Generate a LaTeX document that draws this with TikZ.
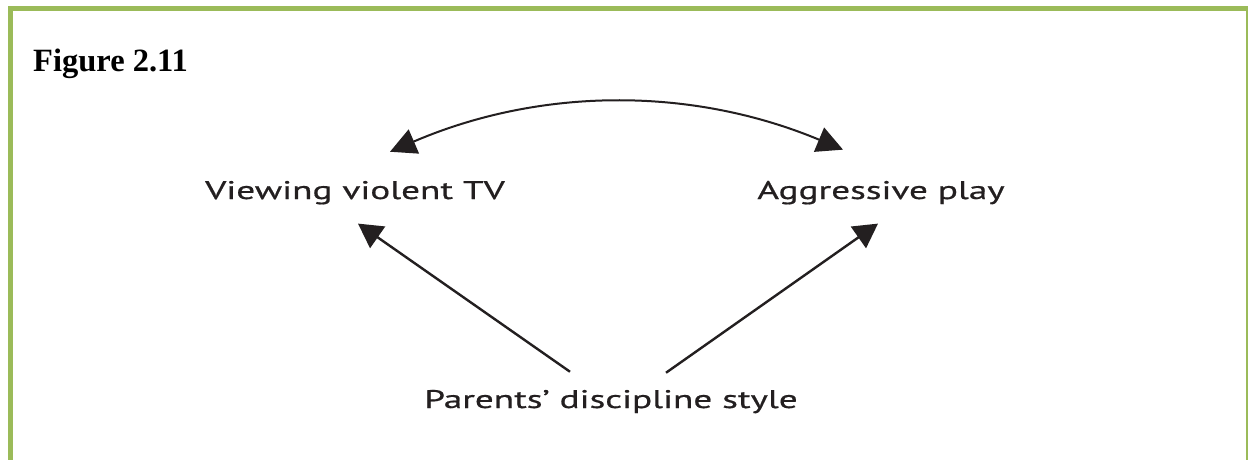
\documentclass[tikz,border=0pt]{standalone}
\usepackage{fontspec}
\setmainfont{Liberation Serif}
\newfontfamily\diagfont[FakeStretch=1.46,FakeBold=0.6]{PT Sans}
\usetikzlibrary{arrows.meta,calc}
\definecolor{framegreen}{HTML}{9BBB59}
\definecolor{ink}{HTML}{231F20}
\tikzset{
  frameline/.style={draw=framegreen, line width=5pt},
  label/.style={font=\diagfont\fontsize{25.5}{28}\selectfont, text=ink, inner sep=0pt, anchor=base},
  title/.style={font=\bfseries\fontsize{32.5}{35}\selectfont, inner sep=0pt, anchor=base west},
  link/.style={draw=ink, line width=2.4pt, -{Triangle[length=24pt,width=26pt]}},
  curvelink/.style={draw=ink, line width=2pt, {Triangle[length=26pt,width=26pt]}-{Triangle[length=26pt,width=26pt]}}
}
\begin{document}
\begin{tikzpicture}[x=1pt,y=1pt]
\useasboundingbox (0,0) rectangle (1248,459);
\fill[white] (0,0) rectangle (1248,459);
% frame (open at bottom)
\draw[frameline] (10.5,-5) -- (10.5,450.5) -- (1248.5,450.5) -- (1248.5,-5);
% title
\node[title] (fig) at (33,387) {Figure 2.11};
% labels
\node[label] (tv) at (355,260) {Viewing violent TV};
\node[label] (ag) at (881,260) {Aggressive play};
\node[label] (pa) at (611,51) {Parents’ discipline style};
% straight arrows
\draw[link] ($(pa.north)+(-41,18)$) -- ($(tv.south)+(3,-19)$);
\draw[link] ($(pa.north)+(55,17)$) -- ($(ag.south)+(-3,-19)$);
% curved double arrow
\draw[curvelink] ($(tv.north)+(35,29)$) .. controls (540.7,372) and (691.7,372.5) .. ($(ag.north)+(-38,31)$);
\end{tikzpicture}
\end{document}
